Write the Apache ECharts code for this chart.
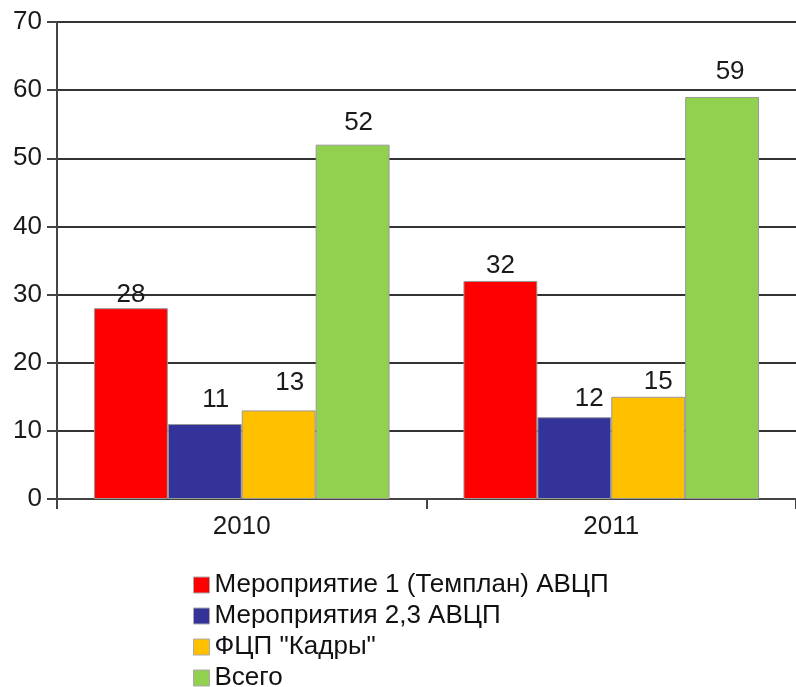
<!DOCTYPE html>
<html><head><meta charset="utf-8">
<script src="https://cdn.jsdelivr.net/npm/echarts@6/dist/echarts.min.js"></script>
<style>html,body{margin:0;padding:0;background:#fff}#c{width:796px;height:687px}</style>
</head><body><div id="c"></div>
<script>
const categories = ['2010', '2011'];
const seriesNames = ['Мероприятие 1 (Темплан) АВЦП', 'Мероприятия 2,3 АВЦП', 'ФЦП "Кадры"', 'Всего'];
const values1 = [28, 32];
const values2 = [11, 12];
const values3 = [13, 15];
const values4 = [52, 59];
const colors = ['#FF0000', '#333399', '#FFC000', '#92D050'];
const yTicks = [0, 10, 20, 30, 40, 50, 60, 70];
// label nudges (style only), per series, per category: [dx, dy]
const labelNudges = [
  [[0, 0], [0, -2]],
  [[11, -11], [15, -5]],
  [[11, -15], [10, -2]],
  [[6, -9], [8, -12]]
];

const font = 'Liberation Sans, Arial, sans-serif';
const allVals = [values1, values2, values3, values4];
const chart = echarts.init(document.getElementById('c'));
chart.setOption({
  animation: false,
  textStyle: { fontFamily: font },
  grid: { left: 57, right: -1, top: 22, bottom: 188, containLabel: false },
  legend: {
    orient: 'vertical', left: 193, top: 572, height: 160, padding: 0,
    itemWidth: 16, itemHeight: 16, itemGap: 5,
    icon: 'rect',
    data: seriesNames,
    itemStyle: { borderColor: '#aaa', borderWidth: 1 },
    textStyle: { fontSize: 26, lineHeight: 26, color: '#111', fontFamily: font }
  },
  xAxis: {
    type: 'category', data: categories,
    axisLine: { lineStyle: { color: '#444', width: 2 } },
    axisTick: { show: true, length: 10, lineStyle: { color: '#444', width: 2 } },
    axisLabel: { fontSize: 26, color: '#1a1a1a', margin: 15, fontFamily: font }
  },
  yAxis: {
    type: 'value', min: yTicks[0], max: yTicks[yTicks.length - 1], interval: 10,
    axisLine: { show: true, lineStyle: { color: '#444', width: 2 } },
    axisTick: { show: true, length: 10, lineStyle: { color: '#444', width: 2 } },
    axisLabel: { fontSize: 26, color: '#1a1a1a', margin: 15, fontFamily: font },
    splitLine: { show: true, lineStyle: { color: '#333', width: 2 } }
  },
  series: seriesNames.map((n, i) => ({
    name: n, type: 'bar',
    data: allVals[i].map((v, j) => ({ value: v, label: { offset: labelNudges[i][j] } })),
    barGap: '0%', barCategoryGap: '20%',
    itemStyle: { color: colors[i], borderColor: '#999', borderWidth: 1 },
    label: { show: true, position: 'top', fontSize: 26, color: '#1a1a1a', distance: 0, fontFamily: font }
  }))
});
</script></body></html>
